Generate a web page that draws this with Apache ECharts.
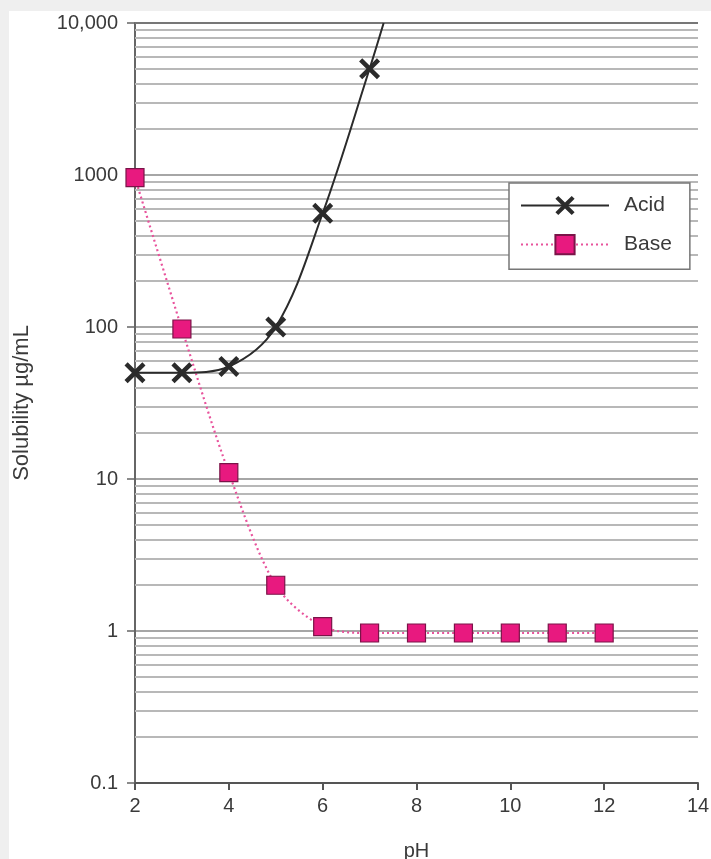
<!DOCTYPE html>
<html>
<head>
<meta charset="utf-8">
<script src="https://cdn.jsdelivr.net/npm/echarts@6/dist/echarts.min.js"></script>
<style>
  html, body { margin: 0; padding: 0; background: #efefef; }
  #panel { position: absolute; left: 9px; top: 11px; width: 702px; height: 848px; background: #fff; }
  #chart { position: absolute; left: 0; top: 0; width: 711px; height: 859px; }
</style>
</head>
<body>
<div id="panel"></div>
<div id="chart"></div>
<script>
// 数据
var acidPH = [2, 3, 4, 5, 6, 7, 7.3];
var acidVal = [50, 50, 55, 100, 560, 5000, 10000];   // 最后一个点是曲线到顶的位置，不画标记
var basePH = [2, 3, 4, 5, 6, 7, 8, 9, 10, 11, 12];
var baseVal = [960, 97, 11, 2, 1.07, 0.97, 0.97, 0.97, 0.97, 0.97, 0.97];
var xTicks = [2, 4, 6, 8, 10, 12, 14];
var yTicks = [0.1, 1, 10, 100, 1000, 10000];

var chart = echarts.init(document.getElementById('chart'), null, { renderer: 'canvas' });

// 次网格线 2..9 每个数量级
var minorLines = [];
for (var d = 0; d < yTicks.length - 1; d++) {
    for (var k = 2; k <= 9; k++) {
        minorLines.push({ yAxis: +(yTicks[d] * k).toPrecision(3) });
    }
}
// 顶部那条线颜色深一些
minorLines.push({ yAxis: yTicks[yTicks.length - 1], lineStyle: { color: '#777', width: 2 } });

var xMark = 'path://M3,0 L10,7 L17,0 L20,3 L13,10 L20,17 L17,20 L10,13 L3,20 L0,17 L7,10 L0,3 Z';

var acidData = [];
for (var i = 0; i < acidPH.length; i++) {
    var item = { value: [acidPH[i], acidVal[i]] };
    if (i == acidPH.length - 1) {
        item.symbol = 'none';
    }
    acidData.push(item);
}
var baseData = [];
for (var j = 0; j < basePH.length; j++) {
    baseData.push([basePH[j], baseVal[j]]);
}

var font = 'Liberation Sans, Arial, sans-serif';

var option = {
    animation: false,
    backgroundColor: 'transparent',
    grid: { left: 135, right: 13, top: 23, bottom: 76, containLabel: false, outerBoundsMode: 'none' },
    legend: {
        orient: 'vertical',
        left: 509,
        top: 183,
        backgroundColor: '#fff',
        borderColor: '#777',
        borderWidth: 1.5,
        borderRadius: 0,
        padding: [12, 18, 14, 11],
        itemWidth: 88,
        itemHeight: 24,
        itemGap: 18,
        textStyle: { fontFamily: font, fontSize: 21, color: '#3a3a3a', padding: [0, 0, 0, 10] },
        data: ['Acid', 'Base']
    },
    xAxis: {
        type: 'value',
        min: 2,
        max: 14,
        interval: 2,
        name: 'pH',
        nameLocation: 'middle',
        nameGap: 58,
        nameTextStyle: { fontFamily: font, fontSize: 20, color: '#3a3a3a' },
        axisLine: { lineStyle: { color: '#555', width: 2 } },
        axisTick: { inside: false, length: 7, lineStyle: { color: '#555', width: 2 } },
        axisLabel: { fontFamily: font, fontSize: 20, color: '#3a3a3a', margin: 13 },
        splitLine: { show: false }
    },
    yAxis: {
        type: 'log',
        logBase: 10,
        min: 0.1,
        max: 10000,
        name: 'Solubility µg/mL',
        nameLocation: 'middle',
        nameGap: 102,
        nameRotate: 90,
        nameTextStyle: { fontFamily: font, fontSize: 22, color: '#3a3a3a' },
        axisLine: { show: true, lineStyle: { color: '#666', width: 2 } },
        axisTick: { inside: false, length: 8, lineStyle: { color: '#666', width: 1.5 } },
        axisLabel: {
            fontFamily: font, fontSize: 20, color: '#3a3a3a', margin: 17,
            formatter: function(v) {
                if (v >= 10000) return '10,000';
                if (v < 1) return '0.1';
                return String(Math.round(v));
            }
        },
        splitLine: { show: true, lineStyle: { color: '#a6a6a6', width: 2 } }
    },
    series: [{
        name: 'Acid',
        type: 'line',
        smooth: 0.35,
        data: acidData,
        symbol: xMark,
        symbolSize: 21,
        itemStyle: { color: '#2b2b2b' },
        lineStyle: { color: '#2b2b2b', width: 2 },
        z: 4,
        markLine: {
            silent: true,
            symbol: 'none',
            label: { show: false },
            lineStyle: { color: '#b8b8b8', width: 2, type: 'solid' },
            data: minorLines,
            z: 1
        }
    }, {
        name: 'Base',
        type: 'line',
        smooth: 0.3,
        data: baseData,
        symbol: 'rect',
        symbolSize: 18,
        itemStyle: { color: '#e8197f', borderColor: '#7a1448', borderWidth: 1.2 },
        lineStyle: { color: '#e8539c', width: 2.2, type: [2, 3] },
        z: 3
    }]
};
chart.setOption(option);
</script>
</body>
</html>
